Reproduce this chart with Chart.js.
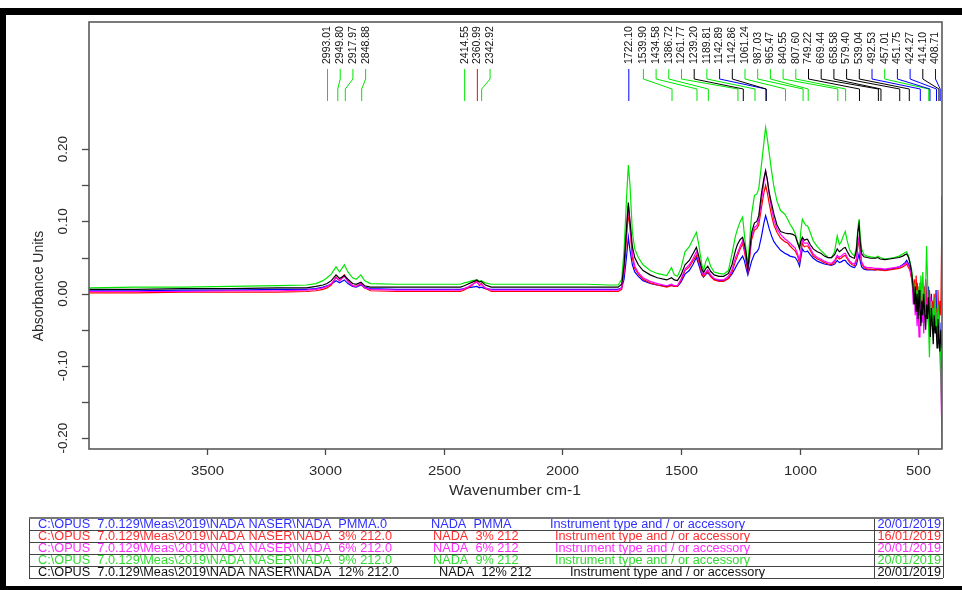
<!DOCTYPE html>
<html><head><meta charset="utf-8">
<script src="https://cdn.jsdelivr.net/npm/chart.js@4"></script>
<style>html,body{margin:0;padding:0;background:#fff}canvas{display:block}</style>
</head><body>
<canvas id="c" width="962" height="590" style="width:962px;height:590px"></canvas>
<script>
// ---------------- DATA ----------------
const wavenumbers = [
 3997,3800,3600,3400,3200,3080,3040,3010,2993,2975,
 2955,2940,2920,2905,2885,2870,2850,2835,2810,2700,
 2550,2430,2414,2400,2380,2361,2350,2343,2325,2300,
 2100,1900,1800,1765,1750,1740,1730,1722,1715,1705,
 1695,1680,1660,1630,1600,1560,1540,1528,1515,1500,
 1483,1465,1450,1435,1425,1412,1405,1395,1387,1375,
 1360,1340,1320,1300,1285,1270,1262,1250,1240,1232,
 1225,1218,1210,1202,1190,1180,1172,1160,1150,1143,
 1136,1128,1118,1108,1095,1080,1062,1050,1040,1028,
 1018,1008,1000,995,988,980,972,966,955,942,
 925,910,895,880,865,852,841,832,824,815,
 807,798,788,778,768,760,754,749,744,738,
 728,715,700,680,669,660,640,620,600,580,
 565,555,548,540,534,
 528,524,520,516,512,508,504,500,496,492,488,484,480,476,472,468,464,460,456,452,448,444,440,436,432,428,424,420,416,412,408,404,401,399
];
const pmma = [
 .004,.004,.005,.005,.006,.006,.007,.009,.011,.013,
 .018,.015,.019,.014,.010,.009,.012,.009,.007,.006,
 .006,.006,.007,.008,.009,.010,.008,.009,.007,.006,
 .006,.006,.006,.006,.008,.020,.050,.078,.060,.040,
 .030,.024,.018,.014,.012,.010,.012,.010,.010,.016,
 .027,.032,.040,.050,.040,.026,.023,.027,.029,.024,
 .020,.018,.018,.021,.027,.036,.041,.047,.052,.045,
 .035,.026,.035,.045,.055,.058,.062,.080,.098,.108,
 .100,.090,.080,.072,.066,.060,.056,.054,.052,.051,
 .050,.045,.038,.048,.062,.058,.058,.059,.054,.049,
 .045,.043,.041,.040,.039,.041,.046,.043,.044,.046,
 .046,.042,.039,.037,.036,.040,.048,.055,.045,.037,
 .034,.033,.033,.033,.034,.033,.033,.034,.035,.037,
 .040,.043,.046,.041,.036,
 .025,.018,.005,-.010,.010,-.015,.015,-.020,.005,-.030,.000,-.040,-.010,.010,-.025,.020,-.015,-.035,.010,-.020,-.045,.000,-.030,-.055,-.010,-.040,.005,-.060,-.020,-.070,-.040,-.090,-.100,-.105
];
const nada3 = [
 .001,.001,.002,.002,.002,.003,.004,.006,.008,.012,
 .023,.018,.026,.018,.011,.010,.014,.008,.004,.003,
 .003,.003,.005,.008,.012,.018,.011,.014,.007,.003,
 .003,.003,.003,.003,.006,.030,.075,.113,.090,.050,
 .035,.027,.020,.015,.012,.009,.011,.010,.010,.018,
 .032,.037,.045,.053,.045,.028,.023,.028,.031,.024,
 .019,.017,.017,.021,.030,.045,.052,.062,.069,.058,
 .043,.030,.050,.075,.088,.090,.095,.120,.140,.150,
 .140,.125,.108,.095,.085,.077,.072,.070,.066,.062,
 .059,.052,.043,.055,.070,.065,.066,.066,.060,.052,
 .048,.046,.043,.041,.040,.044,.051,.048,.049,.052,
 .053,.048,.043,.040,.039,.046,.065,.075,.058,.042,
 .036,.034,.034,.033,.033,.033,.032,.033,.034,.035,
 .037,.039,.041,.036,.032,
 .022,.015,.000,.020,-.005,.025,-.010,.010,-.025,.015,-.020,.000,-.035,.010,-.015,.020,-.030,-.005,-.040,.005,-.020,-.045,-.010,-.030,.000,-.050,-.020,-.035,.005,-.040,-.010,-.030,.060,.135
];
const nada6 = [
 .003,.003,.003,.004,.004,.005,.006,.008,.010,.014,
 .022,.018,.024,.017,.011,.010,.014,.008,.006,.005,
 .005,.005,.007,.009,.013,.016,.012,.013,.008,.005,
 .005,.005,.005,.005,.008,.032,.085,.122,.095,.055,
 .038,.029,.022,.017,.014,.011,.013,.011,.011,.020,
 .034,.040,.048,.058,.048,.030,.026,.030,.033,.026,
 .021,.019,.019,.024,.033,.050,.056,.066,.073,.062,
 .047,.032,.055,.080,.092,.094,.102,.130,.155,.170,
 .158,.138,.118,.102,.090,.082,.076,.073,.070,.066,
 .063,.055,.046,.059,.075,.070,.070,.070,.063,.055,
 .050,.048,.045,.043,.042,.046,.053,.050,.052,.055,
 .056,.050,.045,.042,.041,.048,.068,.078,.060,.044,
 .038,.036,.036,.035,.035,.035,.034,.035,.036,.037,
 .039,.041,.043,.039,.034,
 .025,.010,-.015,.005,-.030,-.010,-.045,-.015,-.060,-.025,-.005,-.040,-.015,-.055,-.020,.000,-.035,-.010,-.045,-.025,-.005,-.040,-.020,-.050,-.030,-.015,-.045,-.025,-.060,-.035,-.080,-.120,-.170,-.190
];
const nada9 = [
 .008,.009,.009,.010,.011,.012,.014,.018,.022,.027,
 .037,.030,.040,.030,.022,.020,.026,.018,.014,.013,
 .013,.013,.015,.016,.018,.019,.017,.018,.015,.013,
 .013,.013,.012,.012,.020,.060,.130,.178,.150,.085,
 .062,.050,.040,.032,.028,.025,.036,.026,.024,.035,
 .058,.065,.075,.085,.068,.040,.032,.045,.050,.038,
 .030,.028,.027,.032,.055,.080,.089,.100,.106,.080,
 .060,.038,.075,.110,.136,.138,.145,.180,.210,.230,
 .215,.195,.170,.148,.128,.115,.110,.103,.096,.090,
 .083,.072,.062,.085,.103,.098,.094,.094,.085,.073,
 .065,.060,.055,.050,.050,.058,.080,.068,.072,.080,
 .086,.072,.060,.055,.052,.065,.090,.103,.080,.062,
 .054,.052,.051,.050,.052,.050,.048,.049,.050,.052,
 .055,.057,.058,.052,.044,
 .035,.025,.010,-.005,.015,-.020,.005,-.030,.010,-.015,.025,-.010,.030,.000,-.020,.010,.066,.020,-.040,-.088,-.030,-.010,-.050,-.020,-.040,-.005,-.030,-.055,-.015,-.040,-.060,-.090,-.150,-.215
];
const nada12 = [
 .006,.006,.007,.007,.008,.008,.010,.012,.014,.018,
 .026,.021,.025,.020,.014,.013,.016,.011,.009,.009,
 .009,.009,.011,.013,.016,.019,.016,.017,.012,.009,
 .009,.009,.009,.009,.013,.040,.090,.126,.100,.065,
 .050,.040,.032,.026,.022,.019,.022,.019,.018,.026,
 .040,.046,.055,.064,.052,.034,.029,.035,.038,.031,
 .026,.024,.024,.028,.040,.060,.068,.075,.078,.068,
 .055,.034,.060,.085,.098,.100,.108,.140,.160,.170,
 .158,.140,.125,.110,.095,.086,.084,.083,.083,.082,
 .080,.070,.063,.072,.078,.074,.075,.075,.068,.062,
 .058,.056,.052,.050,.050,.054,.062,.058,.060,.063,
 .064,.058,.052,.050,.049,.060,.085,.096,.072,.055,
 .051,.050,.049,.049,.050,.048,.047,.048,.049,.050,
 .052,.054,.055,.050,.042,
 .032,.020,.005,-.015,.010,-.025,.000,-.035,.005,-.020,-.045,-.010,-.030,.000,-.025,-.050,-.015,-.035,-.005,-.030,-.060,-.020,-.040,-.070,-.030,-.055,-.045,-.075,-.035,-.060,-.080,-.050,-.070,-.075
];
const xTicks = [3500,3000,2500,2000,1500,1000,500];
const yTicks = [-0.20,-0.15,-0.10,-0.05,0.00,0.05,0.10,0.15,0.20];
const yTickLabels = [-0.20,-0.10,0.00,0.10,0.20];
const peakWn = [2993.01,2949.80,2917.97,2848.88,2414.55,2360.99,2342.92,1722.10,1539.90,1434.58,1386.72,1261.77,1239.20,1189.81,1142.89,1142.86,1061.24,987.03,965.47,840.55,807.60,749.22,669.44,658.58,579.40,539.04,492.53,457.01,451.75,424.27,414.10,408.71];
const peakSeries = ['g','g','g','g','g','r','g','b','g','g','g','g','k','g','b','k','g','g','g','g','g','k','k','k','k','k','b','g','b','b','k','b'];
const legendPaths = ['C:\\OPUS_7.0.129\\Meas\\2019\\NADA NASER\\NADA_PMMA.0','C:\\OPUS_7.0.129\\Meas\\2019\\NADA NASER\\NADA_3% 212.0','C:\\OPUS_7.0.129\\Meas\\2019\\NADA NASER\\NADA_6% 212.0','C:\\OPUS_7.0.129\\Meas\\2019\\NADA NASER\\NADA_9% 212.0','C:\\OPUS_7.0.129\\Meas\\2019\\NADA NASER\\NADA_12% 212.0'];
const legendNames = ['NADA_PMMA','NADA_3% 212','NADA_6% 212','NADA_9% 212','NADA_12% 212'];
const legendInstr = ['Instrument type and / or accessory','Instrument type and / or accessory','Instrument type and / or accessory','Instrument type and / or accessory','Instrument type and / or accessory'];
const legendDates = ['20/01/2019','16/01/2019','20/01/2019','20/01/2019','20/01/2019'];

// ---------------- STYLE ----------------
const lineColors = {b:'#0000ff', r:'#ff0000', m:'#ff00ff', g:'#00e600', k:'#000000'};
const textColors = ['#2f2fff','#ff2f2f','#ff2fff','#2fdd2f','#111111'];
const FONT = "'Liberation Sans', Arial, sans-serif";
const rowPathX = [38,38,38,38,38];
const rowNameX = [431,433,433,433,439];
const rowInstrX = [550,555,555,555,570];

const seriesDefs = [
  {key:'b', vals:pmma, order:5},
  {key:'r', vals:nada3, order:4},
  {key:'m', vals:nada6, order:3},
  {key:'g', vals:nada9, order:2},
  {key:'k', vals:nada12, order:1}
];

function stext(c, t, x, y, align, sx){
  c.save(); c.translate(x, y); c.scale(sx, 1); c.textAlign = align; c.fillText(t, 0, 0); c.restore();
}

const decor = {
  id: 'decor',
  beforeDraw(chart){
    const c = chart.ctx; c.save(); c.fillStyle = '#fff'; c.fillRect(0,0,chart.width,chart.height); c.restore();
  },
  afterDatasetsDraw(chart){
    const c = chart.ctx, a = chart.chartArea, xs = chart.scales.x, ys = chart.scales.y;
    c.save();
    // outer frame
    c.fillStyle = '#000';
    c.fillRect(0, 8, chart.width, 7);
    c.fillRect(0, 8, 6, chart.height - 8);
    c.fillRect(0, 586, chart.width, 4);
    // plot box
    c.strokeStyle = '#5a5a5a'; c.lineWidth = 1.6;
    c.strokeRect(a.left, a.top, a.right - a.left, a.bottom - a.top);
    // x ticks
    c.fillStyle = '#2a2a2a'; c.font = '13.5px ' + FONT; c.textBaseline = 'middle';
    c.lineWidth = 1.3; c.strokeStyle = '#4a4a4a';
    xTicks.forEach(v => {
      const p = Math.round(xs.getPixelForValue(v)) + 0.5;
      c.beginPath(); c.moveTo(p, a.bottom); c.lineTo(p, a.bottom + 6); c.stroke();
      stext(c, String(v), p, a.bottom + 22, 'center', 1.1);
    });
    // y ticks
    yTicks.forEach(v => {
      const p = Math.round(ys.getPixelForValue(v)) + 0.5;
      c.beginPath(); c.moveTo(a.left - 7, p); c.lineTo(a.left, p); c.stroke();
    });
    c.font = '13.5px ' + FONT;
    yTickLabels.forEach(v => {
      const p = ys.getPixelForValue(v);
      c.save(); c.translate(a.left - 26, p); c.rotate(-Math.PI/2);
      c.textAlign = 'center'; c.fillText(v.toFixed(2), 0, 0); c.restore();
    });
    // axis titles
    c.font = '14px ' + FONT;
    stext(c, 'Wavenumber cm-1', 515, 491, 'center', 1.12);
    c.save(); c.translate(39, 286); c.rotate(-Math.PI/2); c.textAlign = 'center';
    c.fillText('Absorbance Units', 0, 0); c.restore();

    // peak labels
    const n = peakWn.length, gap = 12.7;
    const px = peakWn.map(w => xs.getPixelForValue(w));
    const lx = new Array(n);
    for (let i = 0; i < n; i++) lx[i] = i === 0 ? px[i] : Math.max(px[i], lx[i-1] + gap);
    lx[n-1] = Math.min(lx[n-1], a.right - 7);
    for (let i = n - 2; i >= 0; i--) lx[i] = Math.min(lx[i], lx[i+1] - gap);
    c.font = '10.5px ' + FONT; c.fillStyle = '#111';
    for (let i = 0; i < n; i++) {
      c.save(); c.translate(lx[i] + 0.5, 64); c.rotate(-Math.PI/2);
      c.textAlign = 'left'; c.textBaseline = 'middle';
      c.fillText(peakWn[i].toFixed(2), 0, 0); c.restore();
      c.strokeStyle = lineColors[peakSeries[i]]; c.lineWidth = 1;
      c.beginPath();
      c.moveTo(lx[i] + 0.5, 69); c.lineTo(lx[i] + 0.5, 79);
      c.lineTo(px[i] + 0.5, 89); c.lineTo(px[i] + 0.5, 101);
      c.stroke();
    }

    // legend table
    const tl = 29, tr = 943, tt = 518, rh = 12, div = 874;
    c.font = '12.5px ' + FONT; c.textBaseline = 'middle';
    const sx = 349 / c.measureText(legendPaths[0]).width;
    for (let i = 0; i < legendPaths.length; i++) {
      const cy = tt + rh * i + rh / 2 + 0.5;
      c.fillStyle = textColors[i];
      stext(c, legendPaths[i], rowPathX[i], cy, 'left', sx);
      stext(c, legendNames[i], rowNameX[i], cy, 'left', sx);
      stext(c, legendInstr[i], rowInstrX[i], cy, 'left', sx);
      stext(c, legendDates[i], tr - 2, cy, 'right', sx);
    }
    c.strokeStyle = '#444'; c.lineWidth = 1;
    for (let i = 1; i <= 5; i++) {
      const y = tt + rh * i + 0.5;
      c.beginPath(); c.moveTo(tl, y); c.lineTo(tr, y); c.stroke();
    }
    c.beginPath();
    c.moveTo(tl + 0.5, tt); c.lineTo(tl + 0.5, tt + rh * 5);
    c.moveTo(tr + 0.5, tt); c.lineTo(tr + 0.5, tt + rh * 5);
    c.moveTo(div + 0.5, tt); c.lineTo(div + 0.5, tt + rh * 5);
    c.stroke();
    c.strokeStyle = '#777'; c.lineWidth = 2;
    c.beginPath(); c.moveTo(tl, tt); c.lineTo(tr + 1, tt); c.stroke();
    c.restore();
  }
};

const chart = new Chart(document.getElementById('c').getContext('2d'), {
  type: 'line',
  data: {
    datasets: seriesDefs.map(s => ({
      data: wavenumbers.map((w, i) => ({x: w, y: s.vals[i]})),
      borderColor: lineColors[s.key],
      borderWidth: 1.2,
      pointRadius: 0,
      tension: 0,
      fill: false,
      order: s.order
    }))
  },
  options: {
    responsive: false,
    animation: false,
    layout: { padding: { left: 89, top: 22, right: 20, bottom: 141 } },
    scales: {
      x: { type: 'linear', reverse: true, min: 399, max: 3997, display: false },
      y: { type: 'linear', min: -0.215, max: 0.376, display: false }
    },
    plugins: { legend: { display: false }, tooltip: { enabled: false } }
  },
  plugins: [decor]
});
</script>
</body></html>
